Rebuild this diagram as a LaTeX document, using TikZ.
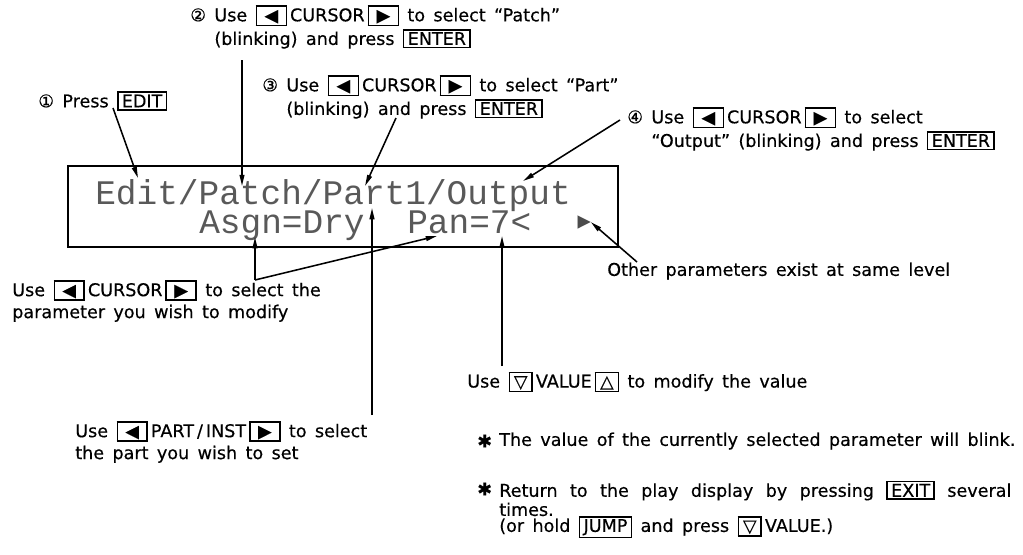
\documentclass[tikz,border=0pt]{standalone}
\usepackage{fontspec}
\setmainfont{DejaVu Sans}[WordSpace=1.5, FakeBold=0.4]
\newfontfamily\lcdfont{Liberation Mono}
\usetikzlibrary{arrows.meta,positioning,calc}

% framed panel keys
\newcommand{\keycap}[1]{{\setlength{\fboxsep}{0.8pt}\setlength{\fboxrule}{1.1pt}\fbox{\rule[-0.4pt]{0pt}{9.8pt}#1}}}
\newcommand{\keyL}{\keycap{\hspace{4.5pt}◀\hspace{4.5pt}}}
\newcommand{\keyR}{\keycap{\hspace{4.5pt}▶\hspace{4.5pt}}}
\newcommand{\keyDn}{\keycap{\hspace{2pt}▽\hspace{2pt}}}
\newcommand{\keyUp}{\keycap{\hspace{2pt}△\hspace{2pt}}}
\newcommand{\keytxt}[1]{\keycap{\hspace{1.5pt}#1\hspace{1.5pt}}}

\begin{document}
\begin{tikzpicture}[
  x=0.025cm, y=-0.025cm,
  note/.style={font=\fontsize{12.5}{15.6}\selectfont, inner sep=0pt, align=left, anchor=west},
  stepnote/.style={note, font=\fontsize{12.5}{16.8}\selectfont},
  lcdtext/.style={font=\lcdfont\fontsize{24.5}{29}\selectfont, text=black!65, inner sep=0pt, text depth=0pt, anchor=base west},
  lcdpanel/.style={draw=black, line width=1.3pt},
  callout/.style={-{Triangle[length=8pt,width=3.4pt]}, draw=black, line width=1.1pt}
]
  \useasboundingbox (0,0) rectangle (1023,554);

  % display
  \draw[lcdpanel] (68,166) rectangle (618,247);
  \node[lcdtext] (row1) at (95,204) {Edit/Patch/Part1/Output};
  \node[lcdtext] (asgn) at (199,233) {Asgn=Dry};
  \node[lcdtext] (pan) at (407,233) {Pan=7<};
  \node[font=\fontsize{12}{14}\selectfont, text=black!70, inner sep=0pt] (more) at (584,222) {▶};

  % steps
  \node[stepnote] (step1) at (38,101) {① Press \keytxt{EDIT}};
  \node[stepnote] (step2) at (190,27) {② Use \keyL\,CURSOR\,\keyR\ to select “Patch”\\\phantom{②\ }(blinking) and press \keytxt{ENTER}};
  \node[stepnote] (step3) at (262,97) {③ Use \keyL\,CURSOR\,\keyR\ to select “Part”\\\phantom{③\ }(blinking) and press \keytxt{ENTER}};
  \node[stepnote] (step4) at (627,129) {④ Use \keyL\,CURSOR\,\keyR\ to select\\\phantom{④\ }“Output” (blinking) and press \keytxt{ENTER}};

  % notes
  \node[note] (selnote) at (12,301) {Use \keyL\,CURSOR\,\keyR\ to select the\\parameter you wish to modify};
  \node[note] (partnote) at (75,442) {Use \keyL\,PART\,/\,INST\,\keyR\ to select\\the part you wish to set};
  \node[note] (valnote) at (467,382) {Use \keyDn\,VALUE\,\keyUp\ to modify the value};
  \node[note] (othernote) at (607,271) {Other parameters exist at same level};
  \node[note] (star1) at (477,441) {✱};
  \node[note] (blinknote) at (499,441) {The value of the currently selected parameter will blink.};
  \node[note] (star2) at (477,489) {✱};
  \node[note, font=\fontsize{12.5}{13.6}\selectfont, text width=12.8cm, align=justify] (exitnote) at (499,498.5) {\hyphenpenalty=10000 Return to the play display by pressing \keytxt{EXIT} several times.};
  \node[note] (jumpnote) at (499,527) {(or hold \keytxt{JUMP} and press \keyDn\,VALUE.)};

  % arrow ends
  \coordinate (srcEdit) at (113,108);
  \coordinate (tgtEdit) at (138,178);
  \coordinate (srcPatch) at (242,60);
  \coordinate (tgtPatch) at (242,186);
  \coordinate (srcPart) at (396,118);
  \coordinate (tgtPart) at (365,186);
  \coordinate (srcOutput) at (620,120);
  \coordinate (tgtOutput) at (523,181);
  \coordinate (selfork) at (255,280);
  \coordinate (tgtAsgn) at (255,237);
  \coordinate (tgtPan) at (437,236);
  \coordinate (srcSlot) at (372,415);
  \coordinate (tgtSlot) at (372,208);
  \coordinate (srcValue) at (502,366);
  \coordinate (tgtValue) at (502,236);
  \coordinate (srcMore) at (637,262);

  \draw[callout] (srcEdit) -- (tgtEdit);
  \draw[callout] (srcPatch) -- (tgtPatch);
  \draw[callout] (srcPart) -- (tgtPart);
  \draw[callout] (srcOutput) -- (tgtOutput);
  \draw[callout] (selfork) -- (tgtAsgn);
  \draw[callout] (selfork) -- (tgtPan);
  \draw[callout] (srcSlot) -- (tgtSlot);
  \draw[callout] (srcValue) -- (tgtValue);
  \draw[callout] (srcMore) -- (more.east);
\end{tikzpicture}
\end{document}
